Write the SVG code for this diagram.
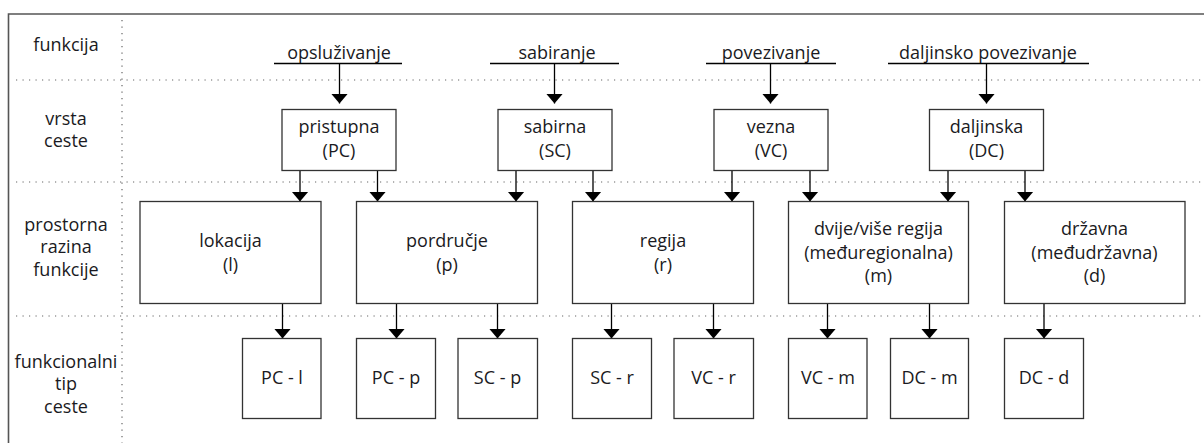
<svg xmlns="http://www.w3.org/2000/svg" width="1204" height="443" viewBox="0 0 1204 443">
<style>
text{font-family:"Open Sans","Noto Sans",sans-serif;font-size:18px;fill:#1a1a22;text-anchor:middle}
.box{fill:#fff;stroke:#333;stroke-width:1.3}
.dot{stroke:#666;stroke-width:1.2;stroke-dasharray:1.2 5.3;fill:none}
.arr{stroke:#000;stroke-width:1.3;fill:none;marker-end:url(#ah)}
.ul{stroke:#000;stroke-width:1.3}
</style>
<defs>
<marker id="ah" viewBox="0 0 10 17" refX="10" refY="8.5" markerWidth="10" markerHeight="17" markerUnits="userSpaceOnUse" orient="auto">
<path d="M0,0 L10,8.5 L0,17 z" fill="#000"/>
</marker>
</defs>
<rect width="1204" height="443" fill="#fff"/>
<g id="frame">
<path d="M8.5,443 V14 H1204" fill="none" stroke="#555" stroke-width="1.6"/>
<path class="dot" d="M16,80 H1204 M16,182 H1204 M16,316 H1204 M122,20 V443"/>
</g>
<g id="row-labels">
<text x="66" y="51">funkcija</text>
<text x="66" y="125">vrsta</text>
<text x="66" y="147">ceste</text>
<text x="66" y="231">prostorna</text>
<text x="66" y="253">razina</text>
<text x="66" y="276">funkcije</text>
<text x="66" y="368">funkcionalni</text>
<text x="66" y="390">tip</text>
<text x="66" y="413">ceste</text>
</g>
<g id="functions">
<g id="f-opsluzivanje"><text x="339" y="59">opsluživanje</text><line class="ul" x1="274" y1="63.5" x2="402" y2="63.5"/></g>
<g id="f-sabiranje"><text x="557" y="59">sabiranje</text><line class="ul" x1="490" y1="63.5" x2="619" y2="63.5"/></g>
<g id="f-povezivanje"><text x="771" y="59">povezivanje</text><line class="ul" x1="706" y1="63.5" x2="836" y2="63.5"/></g>
<g id="f-daljinsko"><text x="988" y="59">daljinsko povezivanje</text><line class="ul" x1="888" y1="63.5" x2="1089" y2="63.5"/></g>
</g>
<g id="connectors">
<line class="arr" x1="339.5" y1="63.5" x2="339.5" y2="103.5"/>
<line class="arr" x1="554.5" y1="63.5" x2="554.5" y2="103.5"/>
<line class="arr" x1="770.5" y1="63.5" x2="770.5" y2="103.5"/>
<line class="arr" x1="986.5" y1="63.5" x2="986.5" y2="103.5"/>
<line class="arr" x1="300" y1="170" x2="300" y2="201.5"/>
<line class="arr" x1="377.5" y1="170" x2="377.5" y2="201.5"/>
<line class="arr" x1="516" y1="170" x2="516" y2="201.5"/>
<line class="arr" x1="593" y1="170" x2="593" y2="201.5"/>
<line class="arr" x1="732" y1="170" x2="732" y2="201.5"/>
<line class="arr" x1="810" y1="170" x2="810" y2="201.5"/>
<line class="arr" x1="948" y1="170" x2="948" y2="201.5"/>
<line class="arr" x1="1025" y1="170" x2="1025" y2="201.5"/>
<line class="arr" x1="282.5" y1="303.5" x2="282.5" y2="338.5"/>
<line class="arr" x1="396.5" y1="303.5" x2="396.5" y2="338.5"/>
<line class="arr" x1="497.5" y1="303.5" x2="497.5" y2="338.5"/>
<line class="arr" x1="611.5" y1="303.5" x2="611.5" y2="338.5"/>
<line class="arr" x1="713.5" y1="303.5" x2="713.5" y2="338.5"/>
<line class="arr" x1="827.5" y1="303.5" x2="827.5" y2="338.5"/>
<line class="arr" x1="929.5" y1="303.5" x2="929.5" y2="338.5"/>
<line class="arr" x1="1044" y1="303.5" x2="1044" y2="338.5"/>
</g>
<g id="n-pristupna"><rect class="box" x="282" y="109.5" width="114" height="61"/><text x="339" y="133">pristupna</text><text x="339" y="157">(PC)</text></g>
<g id="n-sabirna"><rect class="box" x="498" y="109.5" width="114" height="61"/><text x="555" y="133">sabirna</text><text x="555" y="157">(SC)</text></g>
<g id="n-vezna"><rect class="box" x="714" y="109.5" width="114" height="61"/><text x="771" y="133">vezna</text><text x="771" y="157">(VC)</text></g>
<g id="n-daljinska"><rect class="box" x="929.5" y="109.5" width="114" height="61"/><text x="986.5" y="133">daljinska</text><text x="986.5" y="157">(DC)</text></g>
<g id="n-lokacija"><rect class="box" x="140" y="201.5" width="181" height="102"/><text x="230.5" y="247">lokacija</text><text x="230.5" y="271">(l)</text></g>
<g id="n-podrucje"><rect class="box" x="356.5" y="201.5" width="181" height="102"/><text x="447" y="247">pordručje</text><text x="447" y="271">(p)</text></g>
<g id="n-regija"><rect class="box" x="572.5" y="201.5" width="181" height="102"/><text x="663" y="247">regija</text><text x="663" y="271">(r)</text></g>
<g id="n-dvije"><rect class="box" x="788.5" y="201.5" width="180" height="102"/><text x="878.5" y="235">dvije/više regija</text><text x="878.5" y="258.5">(međuregionalna)</text><text x="878.5" y="282">(m)</text></g>
<g id="n-drzavna"><rect class="box" x="1004.5" y="201.5" width="180.5" height="102"/><text x="1094.5" y="235">državna</text><text x="1094.5" y="258.5">(međudržavna)</text><text x="1094.5" y="282">(d)</text></g>
<g id="n-pc-l"><rect class="box" x="242.5" y="338.5" width="78.5" height="80"/><text x="282" y="384">PC - l</text></g>
<g id="n-pc-p"><rect class="box" x="356.5" y="338.5" width="79" height="80"/><text x="396" y="384">PC - p</text></g>
<g id="n-sc-p"><rect class="box" x="458" y="338.5" width="79.5" height="80"/><text x="497.5" y="384">SC - p</text></g>
<g id="n-sc-r"><rect class="box" x="572.5" y="338.5" width="79" height="80"/><text x="612" y="384">SC - r</text></g>
<g id="n-vc-r"><rect class="box" x="674" y="338.5" width="79.5" height="80"/><text x="713.5" y="384">VC - r</text></g>
<g id="n-vc-m"><rect class="box" x="788.5" y="338.5" width="78.5" height="80"/><text x="828" y="384">VC - m</text></g>
<g id="n-dc-m"><rect class="box" x="890.5" y="338.5" width="78" height="80"/><text x="929.5" y="384">DC - m</text></g>
<g id="n-dc-d"><rect class="box" x="1004.5" y="338.5" width="79" height="80"/><text x="1044" y="384">DC - d</text></g>
</svg>
